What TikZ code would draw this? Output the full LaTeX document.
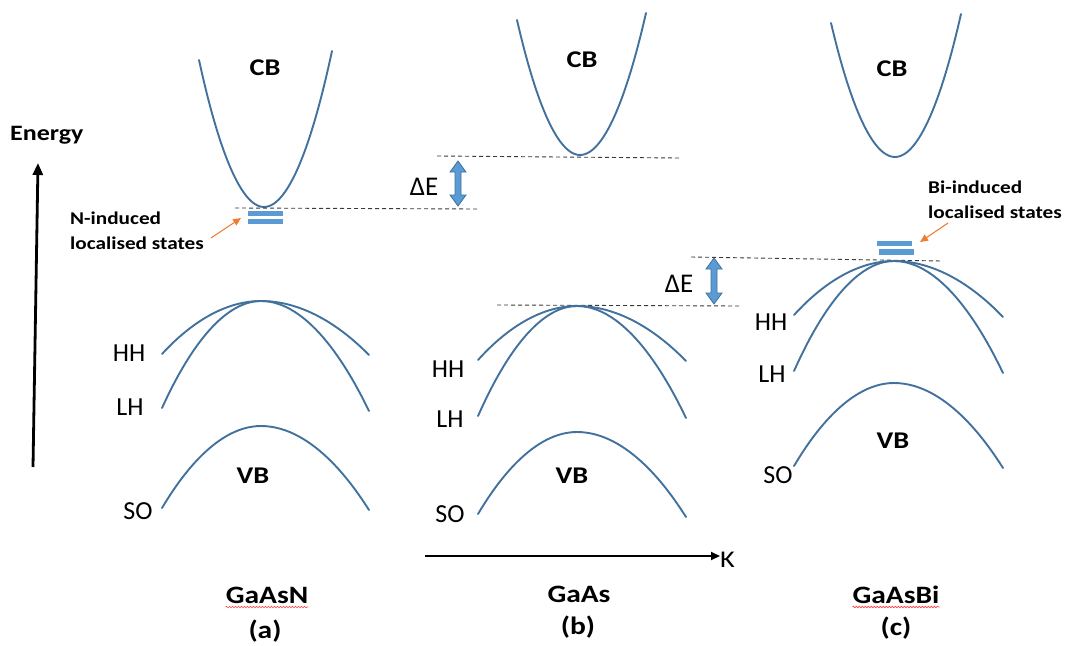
\documentclass[tikz,border=0pt]{standalone}
\usepackage{fontspec}
\setmainfont{Carlito}
\usetikzlibrary{arrows.meta,calc,decorations.pathmorphing}

\definecolor{bandline}{HTML}{41719C}
\definecolor{statefill}{HTML}{5B9BD5}
\definecolor{pointer}{HTML}{ED7D31}
\definecolor{guide}{HTML}{3A3A3A}

% slightly widened lettering for the bold captions
\newcommand{\widened}[1]{\scalebox{1.18}[1]{#1}}

% vertical double-headed block arrow between two named points
\newcommand{\deltaEarrow}[2]{%
  \filldraw[gaparrow] (#1) -- ($(#1)+(8,11)$) -- ($(#1)+(3,11)$)
    -- ($(#2)+(3,-11)$) -- ($(#2)+(8,-11)$) -- (#2)
    -- ($(#2)+(-8,-11)$) -- ($(#2)+(-3,-11)$)
    -- ($(#1)+(-3,11)$) -- ($(#1)+(-8,11)$) -- cycle;}

\begin{document}
\begin{tikzpicture}[x=1pt,y=-1pt,
  band/.style={draw=bandline,line width=1.9pt,line cap=round},
  level/.style={draw=guide,line width=0.9pt,dash pattern=on 4pt off 3pt},
  state/.style={fill=statefill,draw=none},
  gaparrow/.style={fill=statefill,draw=bandline,line width=0.8pt,line join=miter},
  pointarrow/.style={draw=pointer,line width=1.1pt,-{Triangle[length=8pt,width=7pt]}},
  bandname/.style={font=\bfseries\fontsize{24}{28}\selectfont,inner sep=0pt,anchor=base},
  branch/.style={font=\fontsize{26}{30}\selectfont,inner sep=0pt,anchor=base},
  deltalabel/.style={font=\fontsize{27}{32}\selectfont,inner sep=0pt,anchor=base},
  statenote/.style={font=\bfseries\fontsize{18}{25}\selectfont,inner sep=0pt,anchor=base west,align=left},
  material/.style={font=\bfseries\fontsize{25}{29}\selectfont,inner sep=0pt,anchor=base},
  spell/.style={draw=red!75,line width=0.6pt,decorate,decoration={snake,amplitude=0.8pt,segment length=3pt}}
]
\useasboundingbox (0,0) rectangle (1073,645);

% ---------------- axes ----------------
\node[font=\bfseries\fontsize{22}{26}\selectfont,inner sep=0pt,anchor=base west] (energy) at (10,140) {\widened{Energy}};
\coordinate (eaxis0) at (33,467);
\coordinate (eaxis1) at (38,163);
\draw[line width=2.8pt,-{Triangle[length=12pt,width=10pt]}] (eaxis0) -- (eaxis1);

\node[font=\fontsize{24}{28}\selectfont,inner sep=0pt,anchor=base west] (kname) at (720,567) {\widened{K}};
\coordinate (kaxis0) at (425,556);
\draw[line width=1.8pt,-{Triangle[length=9pt,width=8pt]}] (kaxis0) -- (kname.west |- kaxis0);

% ---------------- (a) GaAsN ----------------
\draw[band] (199,60) parabola bend (264,207) (332,51);
\node[bandname] (cba) at (265,75) {\widened{CB}};
\draw[level] (235,208) -- (478,209);
\path[state] (248,211) rectangle (283,216);
\path[state] (248,219) rectangle (283,224);
% anchored at the baseline of the second line
\node[statenote] (nnote) at (70,249) {\widened{N-induced}\\\widened{localised states}};
\coordinate (nptail) at (211,238);
\coordinate (nptip) at (241,218);
\draw[pointarrow] (nptail) -- (nptip);

\draw[band] (162,354) parabola bend (261,301) (369,355);
\draw[band] (162,408) parabola bend (261,301) (369,411);
\draw[band] (162,508) parabola bend (261,426) (369,510);
\node[branch] (hha) at (129,361) {HH};
\node[branch] (lha) at (130,415) {LH};
\node[branch] (soa) at (138,519) {SO};
\node[bandname] (vba) at (253,483) {\widened{VB}};

\node[material] (gaasn) at (267,603) {\widened{GaAsN}};
\node[material] (laba) at (265,638) {\widened{(a)}};
\draw[spell] ($(gaasn.base west)+(0,4)$) -- ($(gaasn.base east)+(0,4)$);

% ---------------- (b) GaAs ----------------
\draw[band] (517,20) parabola bend (580,155) (646,13);
\node[bandname] (cbb) at (582,67) {\widened{CB}};
\draw[level] (437,156) -- (680,158);
\coordinate (gapbtop) at (458,161);
\coordinate (gapbbot) at (458,206);
\deltaEarrow{gapbtop}{gapbbot}
\node[deltalabel] (dEb) at (424,195) {ΔE};

\draw[level] (497,305) -- (740,306);
\draw[band] (478,360) parabola bend (577,306) (686,361);
\draw[band] (478,416) parabola bend (577,306) (686,418);
\draw[band] (478,514) parabola bend (577,432) (686,517);
\node[branch] (hhb) at (448,377) {HH};
\node[branch] (lhb) at (450,427) {LH};
\node[branch] (sob) at (450,522) {SO};
\node[bandname] (vbb) at (572,483) {\widened{VB}};

\node[material] (gaas) at (579,602) {\widened{GaAs}};
\node[material] (labb) at (578,634) {\widened{(b)}};

% ---------------- (c) GaAsBi ----------------
\draw[band] (831,23) parabola bend (895,157) (961,14);
\node[bandname] (cbc) at (892,76) {\widened{CB}};
\draw[level] (691,257) -- (942,261);
\coordinate (gapctop) at (714,258);
\coordinate (gapcbot) at (714,304);
\deltaEarrow{gapctop}{gapcbot}
\node[deltalabel] (dEc) at (679,292) {ΔE};
\path[state] (877,241) rectangle (912,246);
\path[state] (879,249) rectangle (914,255);
\node[statenote] (binote) at (928,218) {\widened{Bi-induced}\\\widened{localised states}};
\coordinate (bitail) at (948,223);
\coordinate (bitip) at (920,242);
\draw[pointarrow] (bitail) -- (bitip);

\draw[band] (794,315) parabola bend (894,261) (1003,317);
\draw[band] (794,371) parabola bend (894,261) (1003,373);
\draw[band] (794,466) parabola bend (894,383) (1003,468);
\node[branch] (hhc) at (771,330) {HH};
\node[branch] (lhc) at (772,382) {LH};
\node[branch] (soc) at (778,483) {SO};
\node[bandname] (vbc) at (893,448) {\widened{VB}};

\node[material] (gaasbi) at (896,603) {\widened{GaAsBi}};
\node[material] (labc) at (896,635) {\widened{(c)}};
\draw[spell] ($(gaasbi.base west)+(0,4)$) -- ($(gaasbi.base east)+(0,4)$);
\end{tikzpicture}
\end{document}
